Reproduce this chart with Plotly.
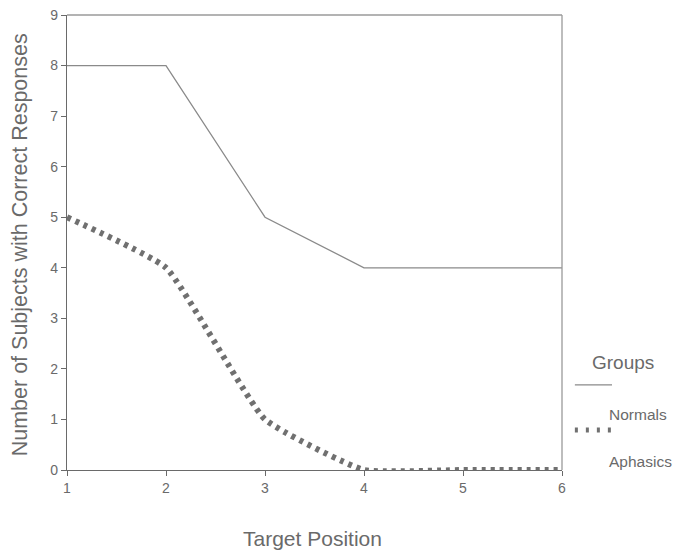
import plotly.graph_objects as go

# Target positions and number of subjects responding correctly
positions = [1, 2, 3, 4, 5, 6]
normals = [8, 8, 5, 4, 4, 4]
aphasics = [5, 4, 1, 0, 0, 0]

y_ticks = list(range(0, 10))
x_ticks = positions

text_color = "#6a6a6a"
font_family = "Liberation Sans, Arial, sans-serif"

fig = go.Figure()

fig.add_trace(go.Scatter(
    x=positions, y=normals, mode="lines", name="Normals",
    line=dict(color="#8a8a8a", width=1.3),
    showlegend=False, cliponaxis=False,
))
fig.add_trace(go.Scatter(
    x=positions, y=aphasics, mode="lines", name="Aphasics",
    line=dict(color="#707070", width=6, dash="4px,5px", shape="spline", smoothing=0.4),
    showlegend=False, cliponaxis=False,
))

fig.update_xaxes(
    range=[1, 6], tickvals=x_ticks, ticktext=[str(v) for v in x_ticks],
    showgrid=False, zeroline=False, automargin=False,
    showline=True, linecolor="#6a6a6a", linewidth=1.3,
    ticks="outside", ticklen=5, tickcolor="#6a6a6a",
    tickfont=dict(family=font_family, size=14, color=text_color),
)
fig.update_yaxes(
    range=[0, 9], tickvals=y_ticks, ticktext=[str(v) for v in y_ticks],
    showgrid=False, zeroline=False, automargin=False,
    showline=True, linecolor="#6a6a6a", linewidth=1.3,
    ticks="outside", ticklen=5, tickcolor="#6a6a6a",
    tickfont=dict(family=font_family, size=14, color=text_color),
)

shapes = [
    # top and right frame
    dict(type="line", xref="paper", yref="paper", x0=0, x1=1, y0=1, y1=1,
         line=dict(color="#9a9a9a", width=1.3)),
    dict(type="line", xref="paper", yref="paper", x0=1, x1=1, y0=0, y1=1,
         line=dict(color="#9a9a9a", width=1.3)),
    # legend samples
    dict(type="line", xref="paper", yref="paper", x0=1.026, x1=1.101, y0=0.187, y1=0.187,
         line=dict(color="#8a8a8a", width=1.2)),
    dict(type="line", xref="paper", yref="paper", x0=1.026, x1=1.103, y0=0.088, y1=0.088,
         line=dict(color="#707070", width=5, dash="3px,8px")),
]

annotations = [
    # axis titles
    dict(text="Target Position", xref="paper", yref="paper", x=0.495, y=-0.1495,
         xanchor="center", yanchor="middle", showarrow=False,
         font=dict(family=font_family, size=21, color=text_color)),
    dict(text="Number of Subjects with Correct Responses", xref="paper", yref="paper",
         x=-0.095, y=0.496, xanchor="center", yanchor="middle", showarrow=False,
         textangle=-90,
         font=dict(family=font_family, size=21.5, color=text_color)),
    # legend
    dict(text="Groups", xref="paper", yref="paper", x=1.056, y=0.237,
         xanchor="left", yanchor="middle", showarrow=False,
         font=dict(family=font_family, size=19, color=text_color)),
    dict(text="Normals", xref="paper", yref="paper", x=1.09, y=0.121,
         xanchor="left", yanchor="middle", showarrow=False,
         font=dict(family=font_family, size=15.5, color=text_color)),
    dict(text="Aphasics", xref="paper", yref="paper", x=1.09, y=0.018,
         xanchor="left", yanchor="middle", showarrow=False,
         font=dict(family=font_family, size=15.5, color=text_color)),
]

fig.update_layout(
    width=680, height=552,
    margin=dict(l=67, r=118, t=15, b=82),
    paper_bgcolor="white", plot_bgcolor="white",
    shapes=shapes, annotations=annotations,
    showlegend=False,
)

fig.write_html("out.html")
